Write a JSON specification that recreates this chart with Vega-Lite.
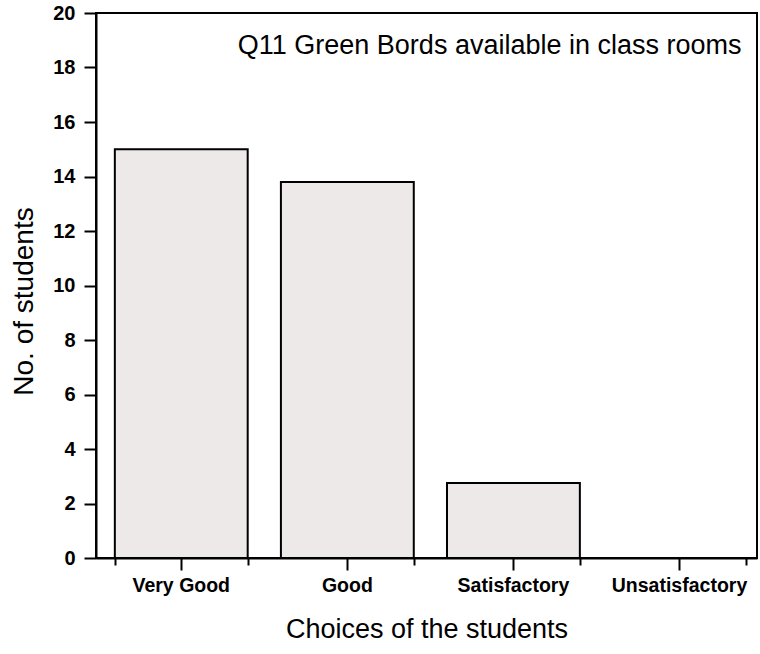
{
  "$schema": "https://vega.github.io/schema/vega-lite/v6.json",
  "autosize": {"type": "none"},
  "width": 661,
  "height": 545,
  "padding": {"left": 96, "top": 13, "right": 3, "bottom": 96},
  "background": "white",
  "config": {
    "font": "Liberation Sans",
    "view": {"stroke": "black", "strokeWidth": 2}
  },
  "data": {
    "values": [
      {"choice": "Very Good", "students": 15},
      {"choice": "Good", "students": 13.8},
      {"choice": "Satisfactory", "students": 2.75},
      {"choice": "Unsatisfactory", "students": 0}
    ]
  },
  "resolve": {"axis": {"x": "independent"}},
  "layer": [
    {
      "mark": {"type": "bar", "fill": "#eee9e9", "stroke": "black", "strokeWidth": 2},
      "encoding": {
        "x": {
          "field": "choice",
          "type": "nominal",
          "sort": null,
          "scale": {"paddingInner": 0.2, "paddingOuter": 0.09, "align": 0.63},
          "axis": {
            "orient": "bottom",
            "title": "Choices of the students",
            "titleFontSize": 27,
            "titleFontWeight": "normal",
            "titleColor": "black",
            "titlePadding": 22,
            "labelAngle": 0,
            "labelFontSize": 19.5,
            "labelFontWeight": "bold",
            "labelColor": "black",
            "labelPadding": 6,
            "tickSize": 12,
            "tickWidth": 2,
            "tickColor": "black",
            "domainColor": "black",
            "domainWidth": 2
          }
        },
        "y": {
          "field": "students",
          "type": "quantitative",
          "scale": {"domain": [0, 20], "nice": false},
          "axis": {
            "title": "No. of students",
            "titleFontSize": 28,
            "titleFontWeight": "normal",
            "titleColor": "black",
            "titlePadding": 14,
            "titleY": 288,
            "values": [0, 1, 2, 3, 4, 5, 6, 7, 8, 9, 10, 11, 12, 13, 14, 15, 16, 17, 18, 19, 20],
            "labelExpr": "datum.value % 2 === 0 ? datum.label : ''",
            "labelFontSize": 20,
            "labelFontWeight": "bold",
            "labelColor": "black",
            "labelPadding": 9,
            "tickSize": {"condition": {"test": "datum.value % 2 === 0", "value": 12}, "value": 6},
            "tickWidth": 2,
            "tickColor": "black",
            "domainColor": "black",
            "domainWidth": 2,
            "grid": false
          }
        }
      }
    },
    {
      "data": {"values": [{"label": "Q11 Green Bords available in class rooms", "choice": "Unsatisfactory", "students": 18.5}]},
      "mark": {"type": "text", "align": "right", "baseline": "alphabetic", "dx": 62, "fontSize": 27, "color": "black"},
      "encoding": {
        "x": {
          "field": "choice",
          "type": "nominal",
          "sort": null,
          "axis": {
            "orient": "bottom",
            "title": null,
            "labels": false,
            "domain": false,
            "ticks": true,
            "tickBand": "extent",
            "tickSize": 7,
            "tickWidth": 2,
            "tickColor": "black"
          }
        },
        "y": {"field": "students", "type": "quantitative"},
        "text": {"field": "label"}
      }
    }
  ]
}
